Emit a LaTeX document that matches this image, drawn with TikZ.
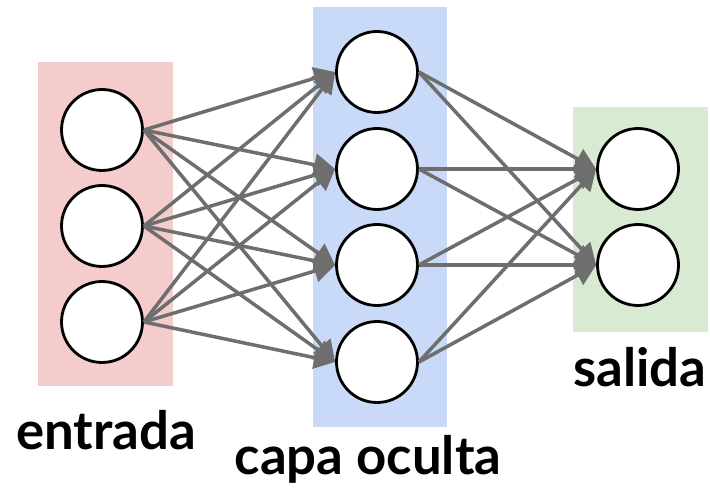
\documentclass[tikz,border=0pt]{standalone}
\usepackage{fontspec}
\newfontfamily\layerfont{Lato}
\usetikzlibrary{arrows.meta}
\definecolor{inred}{HTML}{F4CCCC}
\definecolor{hidblue}{HTML}{C9DAF8}
\definecolor{outgreen}{HTML}{D9EAD3}
\definecolor{arrowgray}{HTML}{6E6E6E}

\begin{document}
\begin{tikzpicture}[x=0.02cm, y=-0.02cm]
\tikzstyle{neuron} = [circle, draw=black, fill=white, line width=1.6pt, minimum size=1.62cm, inner sep=0pt]
\tikzstyle{conn} = [draw=arrowgray, line width=2pt, -{Triangle[length=0.42cm, width=0.44cm]}]
\tikzstyle{layertext} = [anchor=base, font=\layerfont\bfseries\fontsize{30}{35}\selectfont]

\useasboundingbox (0,0) rectangle (710,489);

% layer backgrounds
\fill[inred] (38,62) rectangle (173,386);
\fill[hidblue] (313,7) rectangle (447,427);
\fill[outgreen] (573,107) rectangle (708,332);

\node[neuron] (in1) at (102,130) {};
\node[neuron] (in2) at (102,226) {};
\node[neuron] (in3) at (102,322) {};

\node[neuron] (h1) at (377,72) {};
\node[neuron] (h2) at (377,169) {};
\node[neuron] (h3) at (377,265) {};
\node[neuron] (h4) at (377,362) {};

\node[neuron] (out1) at (638,169) {};
\node[neuron] (out2) at (638,265) {};

\draw[conn] (in1.east) -- (h1.west);
\draw[conn] (in1.east) -- (h2.west);
\draw[conn] (in1.east) -- (h3.west);
\draw[conn] (in1.east) -- (h4.west);
\draw[conn] (in2.east) -- (h1.west);
\draw[conn] (in2.east) -- (h2.west);
\draw[conn] (in2.east) -- (h3.west);
\draw[conn] (in2.east) -- (h4.west);
\draw[conn] (in3.east) -- (h1.west);
\draw[conn] (in3.east) -- (h2.west);
\draw[conn] (in3.east) -- (h3.west);
\draw[conn] (in3.east) -- (h4.west);

\draw[conn] (h1.east) -- (out1.west);
\draw[conn] (h1.east) -- (out2.west);
\draw[conn] (h2.east) -- (out1.west);
\draw[conn] (h2.east) -- (out2.west);
\draw[conn] (h3.east) -- (out1.west);
\draw[conn] (h3.east) -- (out2.west);
\draw[conn] (h4.east) -- (out1.west);
\draw[conn] (h4.east) -- (out2.west);

\node[layertext] (entrada) at (106,450) {entrada};
\node[layertext] (oculta) at (368,475) {capa oculta};
\node[layertext] (salida) at (640,387) {salida};
\end{tikzpicture}
\end{document}
